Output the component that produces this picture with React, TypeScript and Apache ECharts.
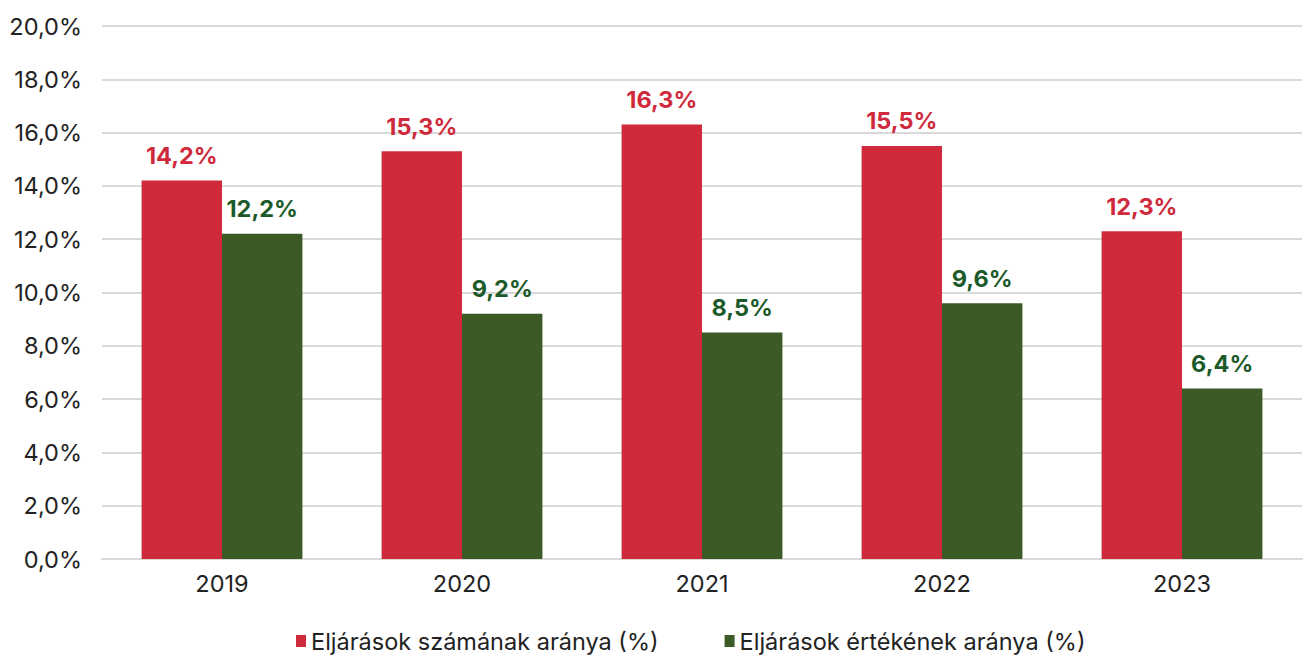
import React, { useEffect, useRef } from "react";
import * as echarts from "echarts";

const categories = ["2019", "2020", "2021", "2022", "2023"];
const countShare = [14.2, 15.3, 16.3, 15.5, 12.3];
const valueShare = [12.2, 9.2, 8.5, 9.6, 6.4];
const seriesNames = ["Eljárások számának aránya (%)", "Eljárások értékének aránya (%)"];

const fmt = (v: number) => v.toFixed(1).replace(".", ",") + "%";

export default function App() {
  const ref = useRef<HTMLDivElement>(null);
  useEffect(() => {
    const chart = echarts.init(ref.current!, null, { renderer: "svg" });
    chart.setOption({
      animation: false,
      textStyle: { fontFamily: "Inter" },
      grid: { left: 102, right: 2, top: 26, bottom: 99, containLabel: false },
      legend: {
        top: 624,
        left: 291,
        itemWidth: 10,
        itemHeight: 12,
        itemGap: 66,
        icon: "rect",
        textStyle: { fontSize: 23.5, color: "#222", fontFamily: "Inter" },
        data: seriesNames,
      },
      xAxis: {
        type: "category",
        data: categories,
        axisTick: { show: false },
        axisLine: { lineStyle: { color: "#d9d9d9", width: 2 } },
        axisLabel: { fontSize: 23.5, color: "#222", margin: 12 },
      },
      yAxis: {
        type: "value",
        min: 0,
        max: 20,
        interval: 2,
        axisLabel: { fontSize: 23.5, color: "#222", margin: 20, formatter: (v: number) => fmt(v) },
        splitLine: { lineStyle: { color: "#d9d9d9", width: 2 } },
      },
      series: [
        {
          name: seriesNames[0],
          type: "bar",
          data: countShare,
          barGap: "0%",
          barCategoryGap: "33%",
          itemStyle: { color: "#CE2A3B" },
          label: {
            show: true,
            position: "top",
            distance: 13,
            fontSize: 23.5,
            fontWeight: "bold",
            color: "#CE2A3B",
            formatter: (p: any) => fmt(p.value),
          },
        },
        {
          name: seriesNames[1],
          type: "bar",
          data: valueShare,
          itemStyle: { color: "#3B5A25" },
          label: {
            show: true,
            position: "top",
            distance: 13,
            fontSize: 23.5,
            fontWeight: "bold",
            color: "#1C5A2A",
            formatter: (p: any) => fmt(p.value),
          },
        },
      ],
    });
    return () => chart.dispose();
  }, []);
  return (
    <div
      ref={ref}
      style={{ position: "absolute", left: 0, top: 0, width: 1304, height: 658 }}
    />
  );
}
